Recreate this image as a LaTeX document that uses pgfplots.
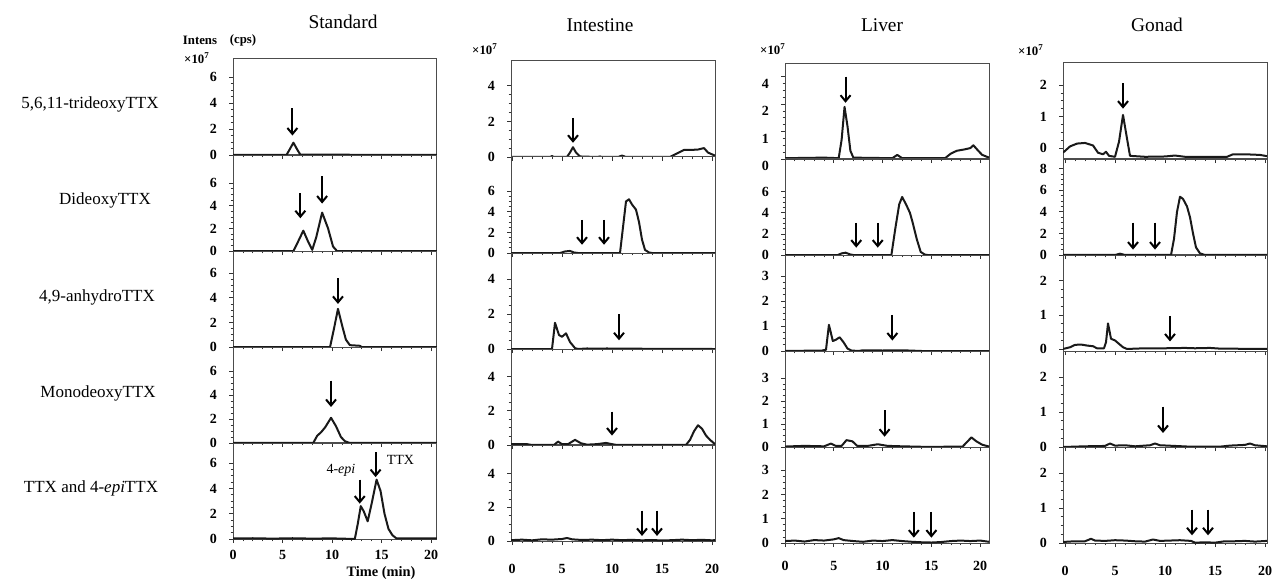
\documentclass[border=0pt]{standalone}
\usepackage{fontspec}
\setmainfont{Liberation Serif}
\usepackage{pgfplots}
\pgfplotsset{compat=1.18}
\usetikzlibrary{arrows.meta}

\pgfplotsset{
  panel/.style={
    width=102pt, height=48pt, scale only axis, anchor=north west,
    xmin=0, xmax=20.5, ymin=0,
    xtick={0,5,10,15,20}, xticklabels={}, minor x tick num=4,
    minor y tick num=3,
    tick align=outside, major tick length=2pt, minor tick length=1.2pt,
    xtick pos=bottom, ytick pos=left,
    tick style={black!80, line width=0.4pt},
    axis line style={black!70, line width=0.5pt},
    ticklabel style={font=\bfseries\fontsize{7}{8}\selectfont},
    yticklabel style={xshift=-2.5pt},
    /pgf/number format/assume math mode=true,
  },
  lastrow/.style={xticklabels={0,5,10,15,20}},
  trace/.style={black!90, line width=1pt, no markers, line join=round},
}
\tikzset{arr/.style={-{Straight Barb[length=3pt,width=5pt]}, line width=1pt}}

\begin{document}
\begin{tikzpicture}
\useasboundingbox (0,0) rectangle (642.5pt,-291.5pt);

% ---------------- Standard ----------------
\begin{axis}[panel, at={(116.5pt,-29.5pt)}, xmax=20.6, ymax=7.4, ytick={0,2,4,6}]
  \addplot[trace] coordinates {(0,0) (5.4,0) (5.7,0.4) (6.1,0.95) (6.5,0.4) (6.8,0.03) (20.6,0)};
  \draw[arr] (axis cs:6,3.6) -- (axis cs:6,1.5);
\end{axis}
\begin{axis}[panel, at={(116.5pt,-77.5pt)}, xmax=20.6, ymax=8.5, ytick={0,2,4,6}]
  \addplot[trace] coordinates {(0,0) (6.1,0) (6.5,0.7) (7.1,1.8) (7.6,0.8) (8.0,0.1) (8.4,1.2) (9.0,3.4) (9.6,2.0) (10.1,0.4) (10.5,0) (20.6,0)};
  \draw[arr] (axis cs:6.8,5.1) -- (axis cs:6.8,2.9);
  \draw[arr] (axis cs:9.0,6.6) -- (axis cs:9.0,4.2);
\end{axis}
\begin{axis}[panel, at={(116.5pt,-125.5pt)}, xmax=20.6, ymax=7.8, ytick={0,2,4,6}]
  \addplot[trace] coordinates {(0,0) (9.8,0) (10.2,1.5) (10.6,3.1) (11.0,1.8) (11.4,0.6) (11.8,0.15) (12.8,0.1) (13.0,0) (20.6,0)};
  \draw[arr] (axis cs:10.6,5.6) -- (axis cs:10.6,3.5);
\end{axis}
\begin{axis}[panel, at={(116.5pt,-173.5pt)}, xmax=20.6, ymax=8.0, ytick={0,2,4,6}]
  \addplot[trace] coordinates {(0,0) (8.1,0) (8.5,0.6) (8.9,0.9) (9.3,1.3) (9.9,2.1) (10.4,1.4) (10.9,0.5) (11.3,0.15) (11.8,0) (20.6,0)};
  \draw[arr] (axis cs:9.9,5.2) -- (axis cs:9.9,3.0);
\end{axis}
\begin{axis}[panel, lastrow, at={(116.5pt,-221.5pt)}, xmax=20.6, ymax=7.6, ytick={0,2,4,6}]
  \addplot[trace] coordinates {(0,0.04) (2,0.06) (4,0.03) (6,0.06) (8,0.03) (10,0.05) (12.3,0) (12.6,1.2) (12.9,2.6) (13.2,2.2) (13.6,1.4) (14.0,2.8) (14.5,4.7) (14.9,3.8) (15.3,2.0) (15.7,0.8) (16.1,0.3) (16.5,0.05) (18,0.04) (20.6,0.05)};
  \draw[arr] (axis cs:12.8,4.7) -- (axis cs:12.8,2.8);
  \draw[arr] (axis cs:14.4,6.85) -- (axis cs:14.4,4.9);
  \node[font=\fontsize{7}{8}\selectfont] at (axis cs:10.9,5.4) {4-\textit{epi}};
  \node[font=\fontsize{7}{8}\selectfont] at (axis cs:16.9,6.3) {TTX};
\end{axis}

% ---------------- Intestine ----------------
\begin{axis}[panel, at={(255.5pt,-30.5pt)}, xmin=-0.1, xmax=20.3, ymax=5.4, ytick={0,2,4}]
  \addplot[trace] coordinates {(-0.1,0) (3.8,0) (4.0,0.05) (4.2,0) (5.5,0) (5.8,0.25) (6.1,0.55) (6.4,0.25) (6.8,0.03) (8.5,0) (8.8,0.03) (9,0) (10.6,0) (11,0.08) (11.4,0) (15.8,0) (16.5,0.2) (17.2,0.4) (18.0,0.4) (18.6,0.42) (19.2,0.5) (19.6,0.25) (20,0.15) (20.3,0.08)};
  \draw[arr] (axis cs:6.1,2.2) -- (axis cs:6.1,0.8);
\end{axis}
\begin{axis}[panel, at={(255.5pt,-78.5pt)}, xmin=-0.1, xmax=20.3, ymax=9.3, ytick={0,2,4,6}]
  \addplot[trace] coordinates {(-0.1,0) (4.8,0) (5.3,0.15) (5.8,0.2) (6.2,0.05) (6.6,0) (10.8,0) (11.1,2.5) (11.4,5.0) (11.7,5.2) (12.0,4.7) (12.4,4.2) (12.7,3.0) (13.0,1.3) (13.3,0.3) (13.7,0.05) (14,0) (20.3,0)};
  \draw[arr] (axis cs:7.0,3.2) -- (axis cs:7.0,0.8);
  \draw[arr] (axis cs:9.2,3.2) -- (axis cs:9.2,0.8);
\end{axis}
\begin{axis}[panel, at={(255.5pt,-126.5pt)}, xmin=-0.1, xmax=20.3, ymax=5.5, ytick={0,2,4}]
  \addplot[trace] coordinates {(-0.1,0) (4.0,0) (4.3,1.5) (4.7,0.8) (5.0,0.7) (5.4,0.9) (5.8,0.4) (6.3,0.05) (6.6,0) (7.5,0.03) (8.5,0.02) (9.5,0.03) (10.5,0.02) (20.3,0)};
  \draw[arr] (axis cs:10.7,2.0) -- (axis cs:10.7,0.5);
\end{axis}
\begin{axis}[panel, at={(255.5pt,-174.5pt)}, xmin=-0.1, xmax=20.3, ymax=5.6, ytick={0,2,4}]
  \addplot[trace] coordinates {(-0.1,0.05) (1.5,0.05) (2,0) (4.2,0) (4.6,0.2) (5.0,0.05) (5.6,0.05) (6.3,0.3) (6.9,0.1) (7.5,0.02) (8.5,0.05) (9.4,0.12) (10,0.05) (10.5,0) (17.4,0) (17.8,0.3) (18.2,0.8) (18.6,1.15) (19.0,0.95) (19.4,0.55) (19.8,0.3) (20.2,0.1) (20.3,0.05)};
  \draw[arr] (axis cs:10.0,1.95) -- (axis cs:10.0,0.55);
\end{axis}
\begin{axis}[panel, lastrow, at={(255.5pt,-222.5pt)}, xmin=-0.1, xmax=20.3, ymax=5.7, ytick={0,2,4},
    xticklabel style={yshift=-6pt}]
  \addplot[trace] coordinates {(-0.1,0.05) (1,0.08) (2,0.04) (3,0.1) (4,0.08) (5,0.12) (5.5,0.18) (6,0.1) (7,0.06) (8,0.08) (9,0.05) (10,0.08) (11,0.05) (12,0.07) (13,0.04) (14,0.06) (15,0.03) (16,0.05) (17,0.08) (18,0.05) (19,0.07) (20,0.04) (20.3,0.05)};
  \draw[arr] (axis cs:13.0,1.8) -- (axis cs:13.0,0.3);
  \draw[arr] (axis cs:14.5,1.8) -- (axis cs:14.5,0.3);
\end{axis}

% ---------------- Liver ----------------
\begin{axis}[panel, at={(392.5pt,-31.5pt)}, xmax=20.9, ymax=3.5, ytick={0,1,2,3}, yticklabels={0,1,2,4},
    yticklabel style={yshift=-3.5pt}]
  \addplot[trace] coordinates {(0,0.03) (4,0.05) (5.5,0.03) (5.8,0.7) (6.1,1.9) (6.4,1.2) (6.7,0.3) (7.0,0.05) (11,0.03) (11.5,0.15) (12,0.03) (16.4,0.03) (17,0.2) (17.6,0.3) (18.4,0.35) (19.0,0.4) (19.3,0.5) (19.8,0.3) (20.2,0.15) (20.9,0.05)};
  \draw[arr] (axis cs:6.2,3.0) -- (axis cs:6.2,2.05);
\end{axis}
\begin{axis}[panel, at={(392.5pt,-79.5pt)}, xmax=20.9, ymax=9.1, ytick={0,2,4,6}]
  \addplot[trace] coordinates {(0,0) (5.4,0) (5.8,0.15) (6.2,0.22) (6.7,0.05) (7,0) (10.9,0) (11.3,2.5) (11.7,4.8) (12.0,5.5) (12.4,4.8) (12.8,4.0) (13.1,3.0) (13.5,1.5) (13.9,0.3) (14.3,0.05) (14.6,0) (20.9,0)};
  \draw[arr] (axis cs:7.3,3.05) -- (axis cs:7.3,0.7);
  \draw[arr] (axis cs:9.5,3.05) -- (axis cs:9.5,0.7);
\end{axis}
\begin{axis}[panel, at={(392.5pt,-127.5pt)}, xmax=20.9, ymax=3.85, ytick={0,1,2,3}]
  \addplot[trace] coordinates {(0,0) (3.8,0.02) (4.2,0.05) (4.5,1.05) (4.9,0.4) (5.2,0.45) (5.6,0.55) (6.0,0.35) (6.4,0.1) (6.8,0.02) (7.5,0) (8,0.03) (10,0.02) (12,0.03) (14,0) (20.9,0)};
  \draw[arr] (axis cs:11.0,1.45) -- (axis cs:11.0,0.42);
\end{axis}
\begin{axis}[panel, at={(392.5pt,-175.5pt)}, xmax=20.9, ymax=4.2, ytick={0,1,2,3}]
  \addplot[trace] coordinates {(0,0.02) (2,0.05) (4,0.03) (4.7,0.15) (5.2,0.05) (5.8,0.05) (6.3,0.3) (6.9,0.25) (7.4,0.05) (8.5,0.05) (9.5,0.12) (10.5,0.05) (12,0.03) (14,0.01) (16,0.01) (18.2,0.02) (18.6,0.2) (19.1,0.42) (19.6,0.25) (20.2,0.1) (20.9,0.02)};
  \draw[arr] (axis cs:10.2,1.6) -- (axis cs:10.2,0.45);
\end{axis}
\begin{axis}[panel, lastrow, at={(392.5pt,-223.5pt)}, xmax=20.9, ymax=3.95, ytick={0,1,2,3},
    xticklabel style={yshift=-3.5pt}]
  \addplot[trace] coordinates {(0,0.08) (1,0.1) (2,0.06) (3,0.12) (4,0.1) (5,0.15) (5.5,0.2) (6,0.12) (7,0.08) (8,0.05) (9,0.1) (10,0.08) (11,0.12) (12,0.08) (13,0.05) (14,0.03) (15,0.02) (16,0.04) (17,0.08) (18,0.1) (19,0.08) (20,0.1) (20.9,0.05)};
  \draw[arr] (axis cs:13.2,1.28) -- (axis cs:13.2,0.22);
  \draw[arr] (axis cs:15.0,1.28) -- (axis cs:15.0,0.22);
\end{axis}

% ---------------- Gonad ----------------
\begin{axis}[panel, at={(531.5pt,-31.5pt)}, xmin=-0.2, xmax=20.2, ymin=-0.35, ymax=2.7, ytick={0,1,2}]
  \addplot[trace] coordinates {(-0.2,-0.15) (0.5,0.05) (1.2,0.14) (2.0,0.16) (2.8,0.08) (3.3,-0.15) (3.8,-0.2) (4.1,-0.12) (4.4,-0.25) (5.0,-0.28) (5.4,0.2) (5.8,1.05) (6.2,0.3) (6.5,-0.25) (8,-0.28) (10,-0.27) (11,-0.24) (12,-0.28) (16.2,-0.28) (16.8,-0.2) (18,-0.2) (19.5,-0.22) (20.2,-0.26)};
  \draw[arr] (axis cs:5.8,2.05) -- (axis cs:5.8,1.25);
\end{axis}
\begin{axis}[panel, at={(531.5pt,-79.5pt)}, xmin=-0.2, xmax=20.2, ymax=8.9, ytick={0,2,4,6,8}]
  \addplot[trace] coordinates {(-0.2,0) (5,0) (5.5,0.12) (6,0) (10.6,0) (10.9,1.5) (11.2,4.0) (11.5,5.4) (11.8,5.2) (12.2,4.5) (12.5,3.5) (12.8,2.0) (13.1,0.7) (13.5,0.15) (14,0) (20.2,0)};
  \draw[arr] (axis cs:6.8,3.0) -- (axis cs:6.8,0.5);
  \draw[arr] (axis cs:9.0,3.0) -- (axis cs:9.0,0.5);
\end{axis}
\begin{axis}[panel, at={(531.5pt,-127.5pt)}, xmin=-0.2, xmax=20.2, ymin=-0.06, ymax=2.76, ytick={0,1,2}]
  \addplot[trace] coordinates {(-0.2,0) (0.5,0.05) (1.0,0.12) (1.6,0.13) (2.2,0.1) (2.8,0.08) (3.2,0.02) (3.9,0.02) (4.1,0.2) (4.3,0.75) (4.6,0.3) (5.0,0.25) (5.4,0.15) (5.8,0.05) (6.2,0) (8,0.02) (10,0.02) (12,0.03) (13,0.02) (14.5,0.03) (15.5,0.01) (20.2,0)};
  \draw[arr] (axis cs:10.5,0.97) -- (axis cs:10.5,0.22);
\end{axis}
\begin{axis}[panel, at={(531.5pt,-175.5pt)}, xmin=-0.2, xmax=20.2, ymax=2.74, ytick={0,1,2}]
  \addplot[trace] coordinates {(-0.2,0) (2,0.02) (4,0.03) (4.5,0.1) (5,0.04) (6,0.05) (7,0.02) (8.5,0.05) (9,0.1) (9.5,0.05) (11,0.03) (12.5,0.01) (15.5,0.01) (16.5,0.04) (18,0.06) (18.5,0.1) (19,0.05) (20.2,0.02)};
  \draw[arr] (axis cs:9.8,1.15) -- (axis cs:9.8,0.4);
\end{axis}
\begin{axis}[panel, lastrow, at={(531.5pt,-223.5pt)}, xmin=-0.2, xmax=20.2, ymax=2.74, ytick={0,1,2},
    xticklabel style={yshift=-6pt}]
  \addplot[trace] coordinates {(-0.2,0.03) (1,0.05) (2,0.05) (2.6,0.12) (3,0.07) (4,0.06) (5,0.08) (6,0.07) (7,0.05) (8,0.04) (8.8,0.1) (9.5,0.06) (10.5,0.07) (11.5,0.08) (12.6,0.06) (13,0.01) (14,0.02) (15,0.01) (16,0.05) (17,0.05) (18,0.06) (19,0.04) (20.2,0.06)};
  \draw[arr] (axis cs:12.7,0.95) -- (axis cs:12.7,0.22);
  \draw[arr] (axis cs:14.3,0.95) -- (axis cs:14.3,0.22);
\end{axis}

% ---------------- texts (pixel coordinates) ----------------
\begin{scope}[x=0.5pt, y=-0.5pt]
  \begin{scope}[font=\fontsize{9.7}{11}\selectfont]
    \node at (343,22) {Standard};
    \node at (600,25) {Intestine};
    \node at (882,25) {Liver};
    \node at (1157,25) {Gonad};
  \end{scope}
  \begin{scope}[font=\fontsize{8.5}{10}\selectfont]
    \node at (90,104) {5,6,11-trideoxyTTX};
    \node at (105,200) {DideoxyTTX};
    \node at (97,297) {4,9-anhydroTTX};
    \node at (98,393) {MonodeoxyTTX};
    \node at (91,488) {TTX and 4-\textit{epi}TTX};
  \end{scope}
  \begin{scope}[font=\bfseries\fontsize{6.4}{7}\selectfont]
    \node at (200,40) {Intens};
    \node at (243,40) {(cps)};
    \node at (197,58) {×10\textsuperscript{7}};
    \node at (485,49) {×10\textsuperscript{7}};
    \node at (773,49) {×10\textsuperscript{7}};
    \node at (1031,50) {×10\textsuperscript{7}};
  \end{scope}
  \node[font=\bfseries\fontsize{7.2}{8}\selectfont] at (381,573) {Time (min)};
\end{scope}
\end{tikzpicture}
\end{document}
